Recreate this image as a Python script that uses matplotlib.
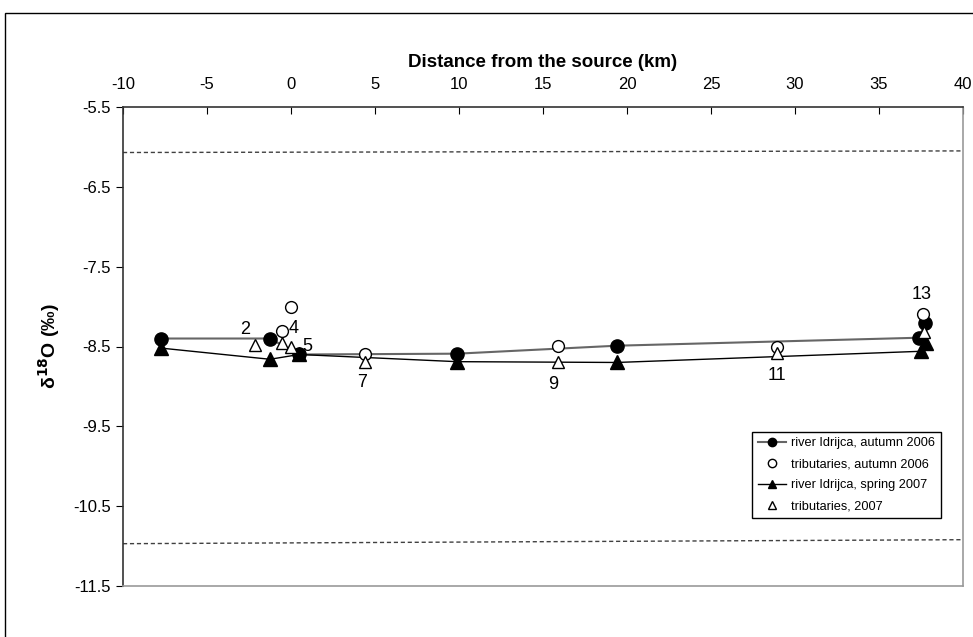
import matplotlib.pyplot as plt
from matplotlib.patches import Rectangle

plt.rcParams['font.family'] = ['Liberation Sans', 'DejaVu Sans']
plt.rcParams['axes.unicode_minus'] = False

# river Idrijca, autumn 2006
riv_aut_x = [-7.74, -1.25, 0.49, 9.88, 19.4, 37.4, 37.75]
riv_aut_y = [-8.40, -8.40, -8.60, -8.59, -8.49, -8.39, -8.20]
# tributaries, autumn 2006
trib_aut_x = [-0.55, 0.0, 4.4, 15.9, 28.9, 37.6]
trib_aut_y = [-8.30, -8.00, -8.59, -8.49, -8.50, -8.09]
# river Idrijca, spring 2007
riv_spr_x = [-7.74, -1.25, 0.49, 9.88, 19.4, 37.5, 37.8]
riv_spr_y = [-8.52, -8.66, -8.60, -8.69, -8.70, -8.56, -8.46]
# tributaries, 2007
trib_spr_x = [-2.14, -0.55, 0.0, 4.4, 15.9, 28.9, 37.7]
trib_spr_y = [-8.48, -8.46, -8.50, -8.69, -8.69, -8.58, -8.32]

# point labels
lab_text = ['2', '4', '5', '7', '9', '11', '13']
lab_x = [-2.74, 0.15, 1.0, 4.23, 15.6, 28.93, 37.56]
lab_y = [-8.29, -8.28, -8.50, -8.95, -8.97, -8.86, -7.85]

# reference (dashed) lines
ref_x = [-10, 40]
ref_top = [-6.07, -6.05]
ref_bot = [-10.97, -10.92]

fig = plt.figure(figsize=(9.73, 6.37), dpi=100)
fig.patches.append(Rectangle((5 / 973, -0.1), 1.2, 1.1 - 13 / 637, transform=fig.transFigure,
                             fill=False, edgecolor='black', lw=1))
ax = fig.add_axes([123 / 973, 1 - 586 / 637, 840 / 973, 479 / 637])

ax.plot(ref_x, ref_top, color='#404040', ls=(0, (3, 2)), lw=1)
ax.plot(ref_x, ref_bot, color='#404040', ls=(0, (3, 2)), lw=1)

ax.plot(riv_aut_x, riv_aut_y, color='#666666', lw=1.5, marker='o', ms=9.5,
        mfc='black', mec='black', label='river Idrijca, autumn 2006', zorder=3)
ax.plot(trib_aut_x, trib_aut_y, ls='none', marker='o', ms=8.5, mfc='white',
        mec='black', mew=1, label='tributaries, autumn 2006', zorder=4)
ax.plot(riv_spr_x, riv_spr_y, color='black', lw=1, marker='^', ms=9.5,
        mfc='black', mec='black', label='river Idrijca, spring 2007', zorder=3)
ax.plot(trib_spr_x, trib_spr_y, ls='none', marker='^', ms=8.5, mfc='white',
        mec='black', mew=1, label='tributaries, 2007', zorder=4)

for t, x, y in zip(lab_text, lab_x, lab_y):
    ax.text(x, y, t, fontsize=13, ha='center', va='center')

ax.set_xlim(-10, 40)
ax.set_ylim(-11.5, -5.5)
ax.set_xticks(range(-10, 41, 5))
ax.set_yticks([-5.5, -6.5, -7.5, -8.5, -9.5, -10.5, -11.5])
ax.set_yticklabels(['-5.5', '-6.5', '-7.5', '-8.5', '-9.5', '-10.5', '-11.5'])
ax.xaxis.tick_top()
ax.xaxis.set_label_position('top')
ax.tick_params(axis='x', direction='in', length=5, labelsize=12, pad=11)
ax.tick_params(axis='y', direction='out', length=5, labelsize=12, pad=4)
ax.set_xlabel('Distance from the source (km)', fontsize=13.5, fontweight='bold', labelpad=7)
ax.set_ylabel(r'δ$^{\mathbf{18}}$O (‰)', fontsize=14, fontweight='bold', labelpad=8)

ax.spines['top'].set_color('#333333')
ax.spines['left'].set_color('#333333')
ax.spines['right'].set_color('#999999')
ax.spines['bottom'].set_color('#999999')
for s in ax.spines.values():
    s.set_linewidth(1.2)

leg = ax.legend(loc='lower left', bbox_to_anchor=(0.749, 0.142), fontsize=9.2,
                fancybox=False, edgecolor='black', framealpha=1, borderpad=0.45,
                handlelength=2.2, handletextpad=0.4, labelspacing=0.7, borderaxespad=0)
leg.get_frame().set_linewidth(1)
for h in leg.legend_handles:
    h.set_markersize(6)

fig.savefig('out.png', dpi=100)
